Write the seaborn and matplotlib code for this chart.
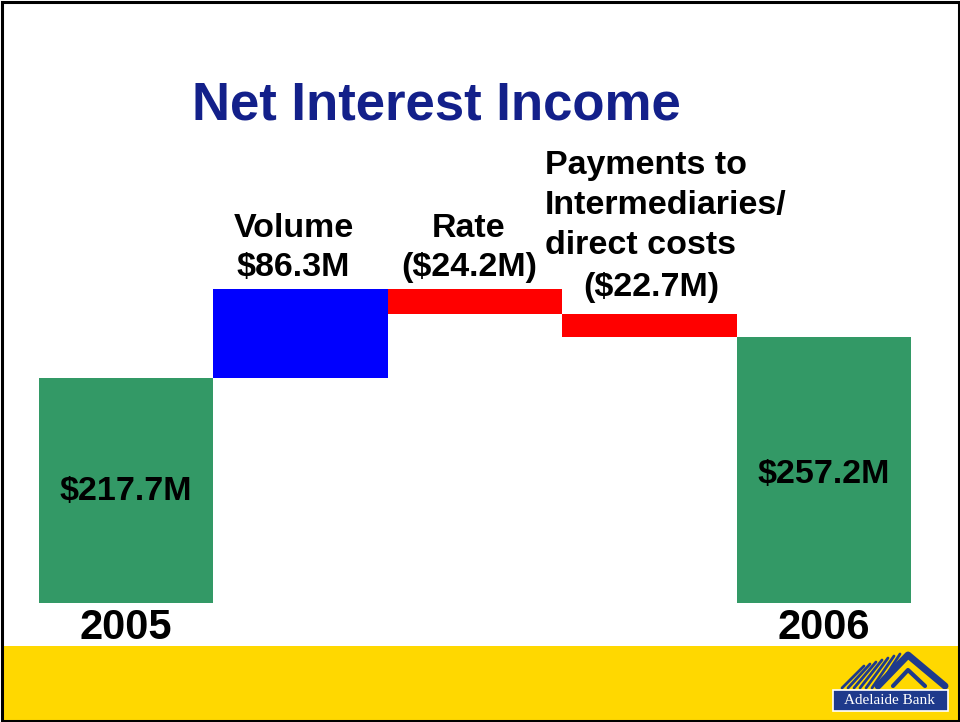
import matplotlib
matplotlib.use("Agg")
import matplotlib.pyplot as plt
import seaborn as sns
from matplotlib.patches import Rectangle
from matplotlib.lines import Line2D

# Data: waterfall steps of net interest income ($M)
steps = ['2005', 'Volume', 'Rate', 'Payments', '2006']
changes = [217.7, 86.3, -24.2, -22.7, 257.2]
is_total = [True, False, False, False, True]
step_colors = ['#339966', '#0000FF', '#FF0000', '#FF0000', '#339966']
inner_labels = ['$217.7M', '', '', '', '$257.2M']
tick_labels = ['2005', '', '', '', '2006']

# running bottoms / heights for the floating bars
bottoms, heights = [], []
running = 0.0
for val, total in zip(changes, is_total):
    if total:
        bottoms.append(0.0)
        heights.append(val)
        running = val
    else:
        bottoms.append(running if val > 0 else running + val)
        heights.append(abs(val))
        running += val
tops = [b + h for b, h in zip(bottoms, heights)]

sns.set_style('white')
plt.rcParams['font.family'] = ['Liberation Sans', 'DejaVu Sans']
plt.rcParams['text.color'] = 'black'

W, H = 960, 722
fig = plt.figure(figsize=(W / 100, H / 100), dpi=100)


def fx(x):
    return x / W


def fy(y):
    return 1 - y / H


# yellow footer band and frame
fig.patches.append(Rectangle((fx(2), 0), fx(956), fy(646), transform=fig.transFigure,
                             facecolor='#FFD800', edgecolor='none', zorder=0))
fig.patches.append(Rectangle((fx(1.5), fy(720.5)), fx(957), (720.5 - 1.5) / H,
                             transform=fig.transFigure, facecolor='none', edgecolor='black',
                             linewidth=2.2, zorder=5))

# axes: bars from x=39..911 px, baseline at y=603 px, top (304) at y=289 px
ax = fig.add_axes([fx(39), fy(603), fx(911 - 39), (603 - 289) / H])
ax.set_facecolor('none')

sns.barplot(x=steps, y=heights, order=steps, bottom=bottoms, width=1.0,
            color=step_colors[0], saturation=1, linewidth=0, errorbar=None, ax=ax)
for patch, c in zip(ax.patches, step_colors):
    patch.set_facecolor(c)
    patch.set_edgecolor('none')

ax.set_xlim(-0.5, len(steps) - 0.5)
ax.set_ylim(0, 304)
sns.despine(ax=ax, left=True, bottom=True)
ax.set_yticks([])
ax.set_xticks(range(len(steps)))
ax.set_xticklabels(tick_labels, fontsize=30, fontweight='bold')
ax.tick_params(axis='x', length=0, pad=3.3, labelcolor='black')

# labels inside the total bars
inner_y = [100, 0, 0, 0, 116]
for i, lab in enumerate(inner_labels):
    if lab:
        ax.text(i, inner_y[i], lab, ha='center', va='baseline',
                fontsize=24.5, fontweight='bold', color='black')

# labels above the floating bars (va='baseline' -> last line's baseline)
ax.annotate('Volume\n$86.3M', xy=(1, tops[1]), xytext=(-7, 13), textcoords='offset pixels',
            ha='center', va='baseline', fontsize=24.5, fontweight='bold', linespacing=1.33,
            multialignment='center')
ax.annotate('Rate\n($24.2M)', xy=(2, tops[2]), xytext=(-6, 13), textcoords='offset pixels',
            ha='center', va='baseline', fontsize=24.5, fontweight='bold', linespacing=1.33,
            multialignment='center')
ax.annotate('Payments to\nIntermediaries/\ndirect costs', xy=(2.5, tops[3]), xytext=(-17, 60),
            textcoords='offset pixels', ha='left', va='baseline', fontsize=24.5,
            fontweight='bold', linespacing=1.38)
ax.annotate('($22.7M)', xy=(3, tops[3]), xytext=(2, 18), textcoords='offset pixels',
            ha='center', va='baseline', fontsize=24.5, fontweight='bold')

# title
fig.text(fx(436), fy(120), 'Net Interest Income', ha='center', va='baseline',
         fontsize=38, fontweight='bold', color='#13208A')

# Adelaide Bank logo
logo_blue = '#1E3A8C'
fig.patches.append(Rectangle((fx(833), fy(711)), fx(948 - 833), (711 - 690) / H,
                             transform=fig.transFigure, facecolor=logo_blue,
                             edgecolor='white', linewidth=1.2, zorder=6))
fig.text(fx(890), fy(701), 'Adelaide Bank', ha='center', va='center', fontsize=11,
         color='white', family=['Liberation Serif', 'DejaVu Serif'], zorder=7)
for xs, ys, lw in [([878, 908, 945], [686, 655, 686], 5),
                   ([893, 908, 925], [686, 670, 686], 3)]:
    fig.add_artist(Line2D([fx(v) for v in xs], [fy(v) for v in ys], color=logo_blue,
                          linewidth=lw, transform=fig.transFigure, zorder=6))
for k in range(7):
    x0 = 842 + 6 * k
    fig.add_artist(Line2D([fx(x0), fx(x0 + 22)], [fy(688), fy(666 - 2 * k)], color=logo_blue,
                          linewidth=2, transform=fig.transFigure, zorder=6))

fig.savefig('out.png', dpi=100)
